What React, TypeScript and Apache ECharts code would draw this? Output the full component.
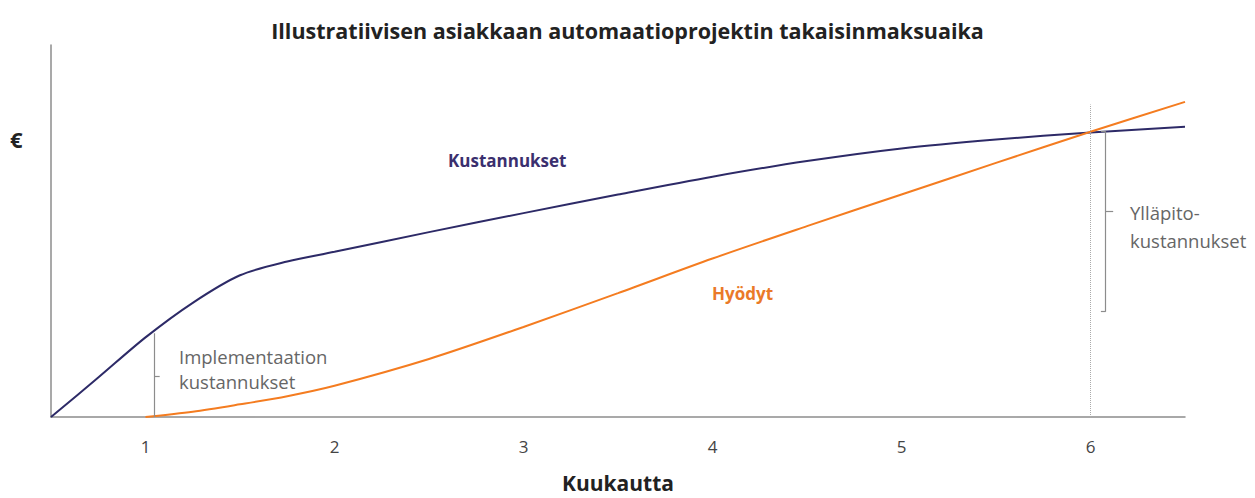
import React, { useEffect, useRef } from "react";
import * as echarts from "echarts";

const titleText = "Illustratiivisen asiakkaan automaatioprojektin takaisinmaksuaika";
const xAxisName = "Kuukautta";
const yAxisName = "€";

const costMonths = [0.5, 0.75, 1, 1.25, 1.5, 1.75, 2, 2.5, 3, 3.5, 4, 4.5, 5, 5.5, 6, 6.5];
const costValues = [0, 10.6, 21.4, 30.7, 38.1, 41.8, 44.4, 49.7, 54.8, 59.8, 64.6, 68.8, 72.2, 74.6, 76.5, 78];

const benefitMonths = [1, 1.25, 1.5, 1.75, 2, 2.5, 3, 3.5, 4, 4.5, 5, 5.5, 6, 6.5];
const benefitValues = [0, 1.4, 3.4, 5.6, 8.4, 15.6, 24.2, 33.3, 42.6, 51.3, 59.8, 68.3, 76.7, 84.7];

const FONT = "Open Sans";

export default function App() {
  const ref = useRef<HTMLDivElement>(null);
  useEffect(() => {
    if (!ref.current) return;
    const chart = echarts.init(ref.current, null, { renderer: "svg" });
    const gray = "#8c8c8c";
    const bracket = { lineStyle: { color: gray, width: 1.2, type: "solid" as const } };
    chart.setOption({
      animation: false,
      backgroundColor: "#ffffff",
      title: {
        text: titleText,
        left: "center",
        top: 14,
        textStyle: { fontFamily: FONT, fontSize: 21.5, fontWeight: "bold", color: "#222" },
      },
      grid: { left: 51, right: 70, top: 45, height: 378, containLabel: false },
      xAxis: {
        type: "value",
        min: 0.5,
        max: 6.5,
        interval: 0.5,
        name: xAxisName,
        nameLocation: "middle",
        nameGap: 55,
        nameTextStyle: { fontFamily: FONT, fontSize: 21, fontWeight: "bold", color: "#222" },
        axisLine: { show: true, lineStyle: { color: gray, width: 1.5 } },
        axisTick: { show: false },
        splitLine: { show: false },
        axisLabel: {
          margin: 21,
          fontFamily: FONT,
          fontSize: 17,
          color: "#444",
          formatter: (v: number) => (Math.abs(v - Math.round(v)) < 1e-6 ? String(Math.round(v)) : ""),
        },
      },
      yAxis: {
        type: "value",
        min: 0,
        max: 100,
        axisLine: { show: true, lineStyle: { color: gray, width: 1.5 } },
        axisTick: { show: false },
        axisLabel: { show: false },
        splitLine: { show: false },
      },
      series: [
        {
          name: "Kustannukset",
          type: "line",
          smooth: 0.3,
          symbol: "none",
          lineStyle: { color: "#2d2a67", width: 2 },
          data: costMonths.map((m, i) => [m, costValues[i]]),
          z: 3,
        },
        {
          name: "Hyödyt",
          type: "line",
          smooth: 0.3,
          symbol: "none",
          lineStyle: { color: "#f47c20", width: 2 },
          data: benefitMonths.map((m, i) => [m, benefitValues[i]]),
          z: 4,
        },
        {
          name: "annotations",
          type: "line",
          data: [],
          markLine: {
            silent: true,
            symbol: ["none", "none"],
            label: { show: false },
            data: [
              [
                { coord: [6, 0], lineStyle: { color: "#aaa", width: 1, type: "dotted" } },
                { coord: [6, 84] },
              ],
              [{ coord: [1.048, 0], ...bracket }, { coord: [1.048, 22.5] }],
              [{ coord: [1.048, 11], ...bracket }, { coord: [1.075, 11] }],
              [{ coord: [6.08, 28.3], ...bracket }, { coord: [6.08, 76.8] }],
              [{ coord: [6.055, 76.8], ...bracket }, { coord: [6.08, 76.8] }],
              [{ coord: [6.055, 28.3], ...bracket }, { coord: [6.08, 28.3] }],
              [{ coord: [6.08, 55.3], ...bracket }, { coord: [6.12, 55.3] }],
            ],
          },
        },
      ],
      graphic: [
        {
          type: "text",
          left: 10,
          top: 128,
          style: { text: yAxisName, fontFamily: FONT, fontSize: 22, fontWeight: "bold", fill: "#222" },
        },
        {
          type: "text",
          left: 448,
          top: 152,
          style: { text: "Kustannukset", fontFamily: FONT, fontSize: 17, fontWeight: "bold", fill: "#3a2f6e" },
        },
        {
          type: "text",
          left: 712,
          top: 285,
          style: { text: "Hyödyt", fontFamily: FONT, fontSize: 17, fontWeight: "bold", fill: "#ea7a28" },
        },
        {
          type: "text",
          left: 179,
          top: 344,
          style: {
            text: "Implementaation\nkustannukset",
            fontFamily: FONT,
            fontSize: 18.5,
            lineHeight: 25,
            fill: "#666",
          },
        },
        {
          type: "text",
          left: 1130,
          top: 198,
          style: {
            text: "Ylläpito-\nkustannukset",
            fontFamily: FONT,
            fontSize: 18.5,
            lineHeight: 28,
            fill: "#666",
          },
        },
      ],
    });
    return () => chart.dispose();
  }, []);
  return (
    <div
      ref={ref}
      style={{ position: "fixed", left: 0, top: 0, width: 1255, height: 498 }}
    />
  );
}
